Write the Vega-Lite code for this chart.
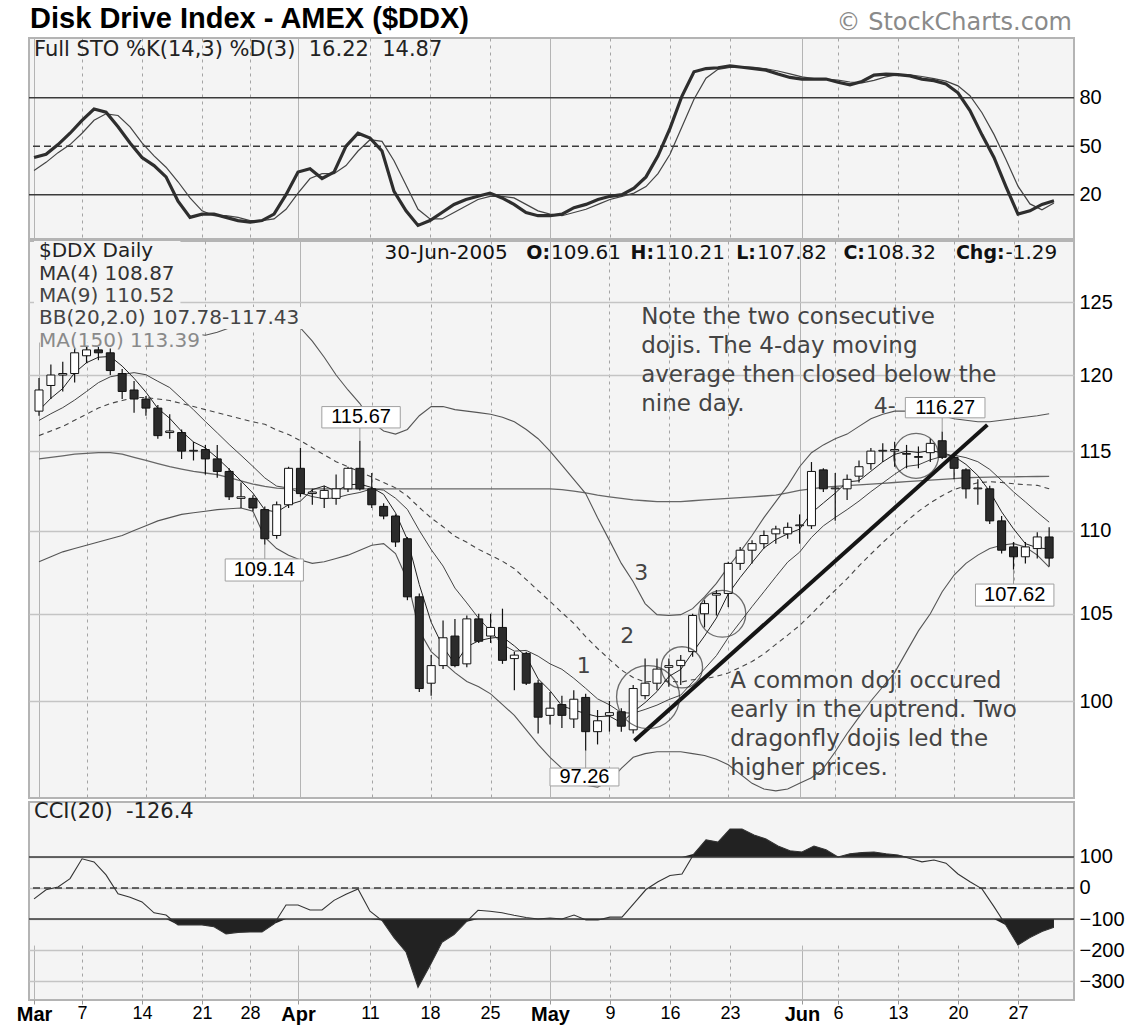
{
"$schema": "https://vega.github.io/schema/vega-lite/v6.json",
"background": "white",
"padding": {"left": 15, "top": 3, "right": 0, "bottom": 0},
"spacing": 0,
"config": {
  "view": {"fill": "#f4f4f4", "stroke": "#b4b4b4", "strokeWidth": 2},
  "axis": {"labelFont": "Liberation Sans", "labelColor": "#000"},
  "text": {"font": "DejaVu Sans"}
},
"datasets": {"d": [
{"t":0,"o":117.6,"h":119.8,"l":117.3,"c":119.0,"m4":117.65,"m9":116.99,"m20":116.0,"bu":124.0,"bl":108.1,"m150":114.5,"k":43,"dd":35,"cci":-35},
{"t":1,"o":119.3,"h":120.7,"l":118.4,"c":120.0,"m4":118.45,"m9":117.43,"m20":116.3,"bu":124.3,"bl":108.4,"m150":114.6,"k":45,"dd":40,"cci":-6},
{"t":2,"o":120.0,"h":120.9,"l":118.9,"c":120.1,"m4":119.1,"m9":117.83,"m20":116.6,"bu":124.5,"bl":108.7,"m150":114.7,"k":51,"dd":46,"cci":3},
{"t":3,"o":120.1,"h":121.8,"l":119.5,"c":121.5,"m4":120.15,"m9":118.33,"m20":117.0,"bu":124.8,"bl":108.9,"m150":114.8,"k":58,"dd":51,"cci":30},
{"t":4,"o":121.3,"h":121.9,"l":120.8,"c":121.7,"m4":120.83,"m9":118.9,"m20":117.4,"bu":125.0,"bl":109.1,"m150":114.85,"k":66,"dd":58,"cci":94},
{"t":5,"o":121.7,"h":121.9,"l":121.0,"c":121.5,"m4":121.2,"m9":119.49,"m20":117.8,"bu":125.0,"bl":109.3,"m150":114.9,"k":73,"dd":66,"cci":84},
{"t":6,"o":121.5,"h":121.8,"l":120.0,"c":120.3,"m4":121.25,"m9":119.88,"m20":118.1,"bu":124.8,"bl":109.5,"m150":114.9,"k":71,"dd":70,"cci":42},
{"t":7,"o":120.1,"h":120.4,"l":118.4,"c":118.9,"m4":120.6,"m9":120.03,"m20":118.3,"bu":124.5,"bl":109.7,"m150":114.8,"k":62,"dd":69,"cci":-19},
{"t":8,"o":119.0,"h":119.6,"l":117.5,"c":118.4,"m4":119.78,"m9":120.16,"m20":118.5,"bu":124.2,"bl":110.0,"m150":114.6,"k":52,"dd":62,"cci":-30},
{"t":9,"o":118.4,"h":118.6,"l":117.3,"c":117.8,"m4":118.85,"m9":120.02,"m20":118.5,"bu":123.9,"bl":110.3,"m150":114.4,"k":43,"dd":52,"cci":-45},
{"t":10,"o":117.8,"h":118.0,"l":115.8,"c":116.0,"m4":117.78,"m9":119.58,"m20":118.4,"bu":123.5,"bl":110.6,"m150":114.2,"k":38,"dd":44,"cci":-80},
{"t":11,"o":116.2,"h":117.4,"l":115.8,"c":116.3,"m4":117.13,"m9":119.16,"m20":118.3,"bu":123.2,"bl":110.8,"m150":114.0,"k":31,"dd":37,"cci":-87},
{"t":12,"o":116.2,"h":116.4,"l":114.5,"c":115.0,"m4":116.28,"m9":118.43,"m20":118.1,"bu":123.0,"bl":111.0,"m150":113.85,"k":16,"dd":28,"cci":-119},
{"t":13,"o":115.0,"h":115.6,"l":114.4,"c":115.05,"m4":115.59,"m9":117.69,"m20":117.9,"bu":122.8,"bl":111.1,"m150":113.7,"k":6,"dd":18,"cci":-119},
{"t":14,"o":115.1,"h":115.4,"l":113.5,"c":114.5,"m4":115.21,"m9":116.92,"m20":117.7,"bu":122.7,"bl":111.2,"m150":113.6,"k":8,"dd":10,"cci":-119},
{"t":15,"o":114.5,"h":115.4,"l":113.3,"c":113.7,"m4":114.56,"m9":116.18,"m20":117.5,"bu":122.9,"bl":111.3,"m150":113.5,"k":8,"dd":7,"cci":-125},
{"t":16,"o":113.7,"h":113.9,"l":111.9,"c":112.1,"m4":113.84,"m9":115.43,"m20":117.3,"bu":123.2,"bl":111.35,"m150":113.3,"k":6,"dd":7,"cci":-148},
{"t":17,"o":112.0,"h":113.0,"l":111.4,"c":112.1,"m4":113.1,"m9":114.73,"m20":117.1,"bu":123.3,"bl":111.4,"m150":113.1,"k":4,"dd":6,"cci":-143},
{"t":18,"o":112.0,"h":112.2,"l":111.2,"c":111.4,"m4":112.33,"m9":114.02,"m20":116.9,"bu":123.4,"bl":111.2,"m150":112.9,"k":3,"dd":4,"cci":-142},
{"t":19,"o":111.3,"h":111.5,"l":109.14,"c":109.5,"m4":111.28,"m9":113.29,"m20":116.74,"bu":123.5,"bl":109.6,"m150":112.75,"k":4,"dd":4,"cci":-142},
{"t":20,"o":109.7,"h":111.8,"l":109.5,"c":111.6,"m4":111.15,"m9":112.77,"m20":116.37,"bu":123.5,"bl":108.9,"m150":112.65,"k":8,"dd":5,"cci":-116},
{"t":21,"o":111.6,"h":114.0,"l":111.4,"c":113.9,"m4":111.6,"m9":112.65,"m20":116.07,"bu":123.4,"bl":108.5,"m150":112.6,"k":20,"dd":11,"cci":-55},
{"t":22,"o":113.9,"h":115.2,"l":112.1,"c":112.3,"m4":111.83,"m9":112.34,"m20":115.68,"bu":123.2,"bl":108.2,"m150":112.6,"k":34,"dd":21,"cci":-55},
{"t":23,"o":112.3,"h":112.6,"l":111.6,"c":112.4,"m4":112.55,"m9":112.11,"m20":115.22,"bu":122.3,"bl":108.0,"m150":112.6,"k":36,"dd":30,"cci":-71},
{"t":24,"o":112.0,"h":112.8,"l":111.4,"c":112.5,"m4":112.78,"m9":111.98,"m20":114.76,"bu":121.2,"bl":108.1,"m150":112.6,"k":30,"dd":33,"cci":-71},
{"t":25,"o":112.0,"h":113.5,"l":111.6,"c":112.6,"m4":112.45,"m9":112.03,"m20":114.32,"bu":120.0,"bl":108.3,"m150":112.6,"k":34,"dd":33,"cci":-40},
{"t":26,"o":112.6,"h":114.0,"l":112.4,"c":113.9,"m4":112.85,"m9":112.23,"m20":114.0,"bu":119.0,"bl":108.5,"m150":112.6,"k":50,"dd":38,"cci":-20},
{"t":27,"o":113.9,"h":115.67,"l":112.5,"c":112.6,"m4":112.9,"m9":112.37,"m20":113.68,"bu":118.1,"bl":108.8,"m150":112.6,"k":58,"dd":47,"cci":-3},
{"t":28,"o":112.6,"h":113.6,"l":111.4,"c":111.6,"m4":112.68,"m9":112.6,"m20":113.34,"bu":116.9,"bl":109.1,"m150":112.6,"k":55,"dd":54,"cci":-75},
{"t":29,"o":111.5,"h":111.7,"l":110.7,"c":110.9,"m4":112.25,"m9":112.52,"m20":113.0,"bu":116.3,"bl":109.2,"m150":112.6,"k":47,"dd":53,"cci":-105},
{"t":30,"o":110.9,"h":111.0,"l":109.0,"c":109.3,"m4":111.1,"m9":112.01,"m20":112.66,"bu":116.1,"bl":108.6,"m150":112.6,"k":22,"dd":41,"cci":-160},
{"t":31,"o":109.5,"h":109.6,"l":105.8,"c":106.0,"m4":109.45,"m9":111.31,"m20":112.15,"bu":116.4,"bl":107.0,"m150":112.6,"k":10,"dd":26,"cci":-206},
{"t":32,"o":106.0,"h":106.2,"l":100.5,"c":100.7,"m4":106.73,"m9":110.01,"m20":111.43,"bu":117.3,"bl":104.0,"m150":112.6,"k":1,"dd":11,"cci":-320},
{"t":33,"o":101.0,"h":102.6,"l":100.3,"c":102.0,"m4":104.5,"m9":108.84,"m20":110.78,"bu":117.9,"bl":102.8,"m150":112.6,"k":4,"dd":5,"cci":-250},
{"t":34,"o":102.0,"h":104.6,"l":101.8,"c":103.6,"m4":103.08,"m9":107.84,"m20":110.24,"bu":117.9,"bl":102.2,"m150":112.6,"k":9,"dd":5,"cci":-175},
{"t":35,"o":103.7,"h":104.7,"l":101.9,"c":102.0,"m4":102.08,"m9":106.52,"m20":109.65,"bu":117.7,"bl":101.6,"m150":112.6,"k":14,"dd":9,"cci":-150},
{"t":36,"o":102.1,"h":104.9,"l":101.9,"c":104.7,"m4":103.08,"m9":105.64,"m20":109.28,"bu":117.6,"bl":101.1,"m150":112.6,"k":17,"dd":13,"cci":-110},
{"t":37,"o":104.7,"h":105.0,"l":103.3,"c":103.4,"m4":103.43,"m9":104.73,"m20":108.85,"bu":117.5,"bl":100.8,"m150":112.6,"k":19,"dd":17,"cci":-72},
{"t":38,"o":103.7,"h":105.0,"l":103.3,"c":104.2,"m4":103.58,"m9":103.99,"m20":108.49,"bu":117.4,"bl":100.4,"m150":112.6,"k":21,"dd":19,"cci":-75},
{"t":39,"o":104.2,"h":105.3,"l":102.1,"c":102.3,"m4":103.65,"m9":103.21,"m20":108.13,"bu":117.2,"bl":99.8,"m150":112.6,"k":18,"dd":19,"cci":-80},
{"t":40,"o":102.4,"h":102.8,"l":100.6,"c":102.6,"m4":103.13,"m9":102.83,"m20":107.68,"bu":116.9,"bl":99.2,"m150":112.6,"k":14,"dd":18,"cci":-88},
{"t":41,"o":102.7,"h":102.8,"l":100.9,"c":101.0,"m4":102.53,"m9":102.87,"m20":107.03,"bu":116.4,"bl":98.4,"m150":112.6,"k":9,"dd":14,"cci":-95},
{"t":42,"o":101.0,"h":101.2,"l":98.2,"c":99.1,"m4":101.25,"m9":102.54,"m20":106.37,"bu":115.8,"bl":97.6,"m150":112.6,"k":7,"dd":10,"cci":-100},
{"t":43,"o":99.2,"h":100.5,"l":98.7,"c":99.6,"m4":100.58,"m9":102.1,"m20":105.73,"bu":115.0,"bl":96.9,"m150":112.6,"k":7,"dd":8,"cci":-97},
{"t":44,"o":99.8,"h":100.3,"l":98.5,"c":99.2,"m4":99.73,"m9":101.79,"m20":105.07,"bu":114.1,"bl":96.3,"m150":112.55,"k":8,"dd":7,"cci":-100},
{"t":45,"o":99.0,"h":100.6,"l":98.5,"c":100.1,"m4":99.5,"m9":101.28,"m20":104.44,"bu":113.2,"bl":95.8,"m150":112.45,"k":12,"dd":9,"cci":-87},
{"t":46,"o":100.2,"h":100.4,"l":97.26,"c":98.3,"m4":99.3,"m9":100.71,"m20":103.66,"bu":112.3,"bl":95.4,"m150":112.35,"k":14,"dd":11,"cci":-103},
{"t":47,"o":98.3,"h":99.5,"l":97.6,"c":98.9,"m4":99.13,"m9":100.12,"m20":102.98,"bu":110.8,"bl":95.3,"m150":112.2,"k":17,"dd":14,"cci":-103},
{"t":48,"o":99.2,"h":100.0,"l":98.3,"c":99.35,"m4":99.16,"m9":99.79,"m20":102.36,"bu":109.4,"bl":95.6,"m150":112.1,"k":19,"dd":17,"cci":-94},
{"t":49,"o":99.4,"h":99.6,"l":98.3,"c":98.6,"m4":98.79,"m9":99.35,"m20":101.75,"bu":108.0,"bl":96.3,"m150":112.0,"k":20,"dd":19,"cci":-94},
{"t":50,"o":98.4,"h":100.9,"l":98.2,"c":100.7,"m4":99.39,"m9":99.32,"m20":101.32,"bu":106.9,"bl":96.9,"m150":111.9,"k":24,"dd":21,"cci":-50},
{"t":51,"o":100.3,"h":102.4,"l":100.1,"c":101.0,"m4":99.91,"m9":99.53,"m20":101.07,"bu":105.6,"bl":97.1,"m150":111.85,"k":31,"dd":25,"cci":-5},
{"t":52,"o":101.0,"h":102.4,"l":100.6,"c":101.8,"m4":100.53,"m9":99.77,"m20":101.12,"bu":104.95,"bl":97.2,"m150":111.8,"k":44,"dd":33,"cci":20},
{"t":53,"o":101.9,"h":102.4,"l":100.8,"c":102.0,"m4":101.38,"m9":100.08,"m20":101.12,"bu":104.9,"bl":97.2,"m150":111.8,"k":61,"dd":45,"cci":40},
{"t":54,"o":102.0,"h":102.6,"l":100.9,"c":102.3,"m4":101.78,"m9":100.33,"m20":101.06,"bu":104.95,"bl":97.2,"m150":111.8,"k":81,"dd":62,"cci":45},
{"t":55,"o":102.8,"h":105.0,"l":102.5,"c":104.9,"m4":102.75,"m9":101.06,"m20":101.2,"bu":105.3,"bl":97.1,"m150":111.85,"k":96,"dd":79,"cci":110},
{"t":56,"o":105.0,"h":105.8,"l":104.2,"c":105.6,"m4":103.7,"m9":101.81,"m20":101.25,"bu":106.0,"bl":97.0,"m150":111.9,"k":98,"dd":92,"cci":155},
{"t":57,"o":106.1,"h":106.4,"l":104.9,"c":106.2,"m4":104.75,"m9":102.57,"m20":101.39,"bu":106.8,"bl":96.8,"m150":111.95,"k":98.5,"dd":97.5,"cci":148},
{"t":58,"o":106.2,"h":108.1,"l":105.4,"c":108.0,"m4":106.18,"m9":103.61,"m20":101.58,"bu":107.8,"bl":96.5,"m150":112.0,"k":99.6,"dd":98.7,"cci":190},
{"t":59,"o":108.0,"h":109.0,"l":107.6,"c":108.8,"m4":107.15,"m9":104.51,"m20":101.9,"bu":108.7,"bl":96.0,"m150":112.05,"k":98.8,"dd":99,"cci":190},
{"t":60,"o":108.8,"h":109.4,"l":108.0,"c":109.2,"m4":108.05,"m9":105.42,"m20":102.23,"bu":109.7,"bl":95.5,"m150":112.1,"k":98,"dd":98.8,"cci":171},
{"t":61,"o":109.2,"h":110.0,"l":108.9,"c":109.7,"m4":108.93,"m9":106.3,"m20":102.67,"bu":110.8,"bl":95.2,"m150":112.15,"k":97,"dd":97.9,"cci":158},
{"t":62,"o":109.8,"h":110.3,"l":109.2,"c":110.1,"m4":109.45,"m9":107.2,"m20":103.22,"bu":111.8,"bl":95.1,"m150":112.2,"k":94.6,"dd":96.5,"cci":135},
{"t":63,"o":109.8,"h":110.5,"l":109.5,"c":110.2,"m4":109.8,"m9":108.08,"m20":103.75,"bu":112.8,"bl":95.2,"m150":112.35,"k":92.5,"dd":94.7,"cci":120},
{"t":64,"o":110.3,"h":111.0,"l":109.2,"c":110.35,"m4":110.09,"m9":108.68,"m20":104.31,"bu":114.0,"bl":95.5,"m150":112.5,"k":91.5,"dd":92.9,"cci":116},
{"t":65,"o":110.3,"h":114.3,"l":110.1,"c":113.7,"m4":111.09,"m9":109.58,"m20":104.99,"bu":114.9,"bl":95.8,"m150":112.6,"k":91.5,"dd":91.8,"cci":135},
{"t":66,"o":113.8,"h":113.9,"l":112.4,"c":112.6,"m4":111.71,"m9":110.29,"m20":105.7,"bu":115.4,"bl":96.3,"m150":112.7,"k":91.5,"dd":91.5,"cci":123},
{"t":67,"o":112.6,"h":113.6,"l":110.6,"c":112.65,"m4":112.33,"m9":110.81,"m20":106.39,"bu":115.8,"bl":97.2,"m150":112.75,"k":89.5,"dd":90.8,"cci":100},
{"t":68,"o":112.6,"h":113.5,"l":111.9,"c":113.2,"m4":113.04,"m9":111.3,"m20":107.08,"bu":116.1,"bl":98.2,"m150":112.8,"k":88,"dd":89.7,"cci":110},
{"t":69,"o":113.4,"h":114.4,"l":113.0,"c":114.0,"m4":113.11,"m9":111.83,"m20":107.85,"bu":116.6,"bl":99.1,"m150":112.85,"k":90,"dd":89.2,"cci":114},
{"t":70,"o":114.2,"h":115.2,"l":113.8,"c":115.0,"m4":113.71,"m9":112.42,"m20":108.57,"bu":117.1,"bl":100.0,"m150":112.9,"k":94,"dd":90.7,"cci":116},
{"t":71,"o":115.0,"h":115.5,"l":114.3,"c":115.05,"m4":114.31,"m9":112.97,"m20":109.27,"bu":117.4,"bl":100.8,"m150":112.95,"k":94.6,"dd":92.9,"cci":110},
{"t":72,"o":115.0,"h":115.6,"l":114.0,"c":115.1,"m4":114.79,"m9":113.52,"m20":109.93,"bu":117.6,"bl":101.6,"m150":113.0,"k":94.3,"dd":94.3,"cci":106},
{"t":73,"o":114.8,"h":115.4,"l":113.9,"c":114.85,"m4":115.0,"m9":114.02,"m20":110.58,"bu":117.6,"bl":102.8,"m150":113.05,"k":93.5,"dd":94.1,"cci":95},
{"t":74,"o":114.6,"h":115.3,"l":113.9,"c":114.65,"m4":114.91,"m9":114.12,"m20":111.19,"bu":117.5,"bl":104.0,"m150":113.1,"k":91.5,"dd":93.1,"cci":84},
{"t":75,"o":114.9,"h":115.8,"l":114.3,"c":115.5,"m4":115.03,"m9":114.44,"m20":111.72,"bu":117.4,"bl":105.0,"m150":113.15,"k":90.5,"dd":91.8,"cci":90},
{"t":76,"o":115.67,"h":116.27,"l":114.5,"c":114.6,"m4":114.9,"m9":114.66,"m20":112.17,"bu":117.3,"bl":106.3,"m150":113.2,"k":88.5,"dd":90.2,"cci":80},
{"t":77,"o":114.6,"h":114.9,"l":113.2,"c":113.9,"m4":114.66,"m9":114.74,"m20":112.56,"bu":117.1,"bl":107.3,"m150":113.25,"k":83,"dd":87.3,"cci":45},
{"t":78,"o":113.8,"h":113.9,"l":112.0,"c":112.6,"m4":114.15,"m9":114.58,"m20":112.79,"bu":117.0,"bl":108.0,"m150":113.3,"k":72,"dd":81.2,"cci":20},
{"t":79,"o":112.6,"h":113.2,"l":111.6,"c":112.65,"m4":113.44,"m9":114.32,"m20":112.98,"bu":116.9,"bl":108.5,"m150":113.32,"k":57,"dd":70.7,"cci":-3},
{"t":80,"o":112.6,"h":112.8,"l":110.4,"c":110.6,"m4":112.44,"m9":113.83,"m20":113.05,"bu":116.9,"bl":108.9,"m150":113.34,"k":43,"dd":57.3,"cci":-60},
{"t":81,"o":110.6,"h":110.9,"l":108.6,"c":108.8,"m4":111.16,"m9":113.13,"m20":113.0,"bu":117.0,"bl":109.1,"m150":113.35,"k":25,"dd":41.7,"cci":-120},
{"t":82,"o":109.0,"h":109.3,"l":107.62,"c":108.4,"m4":110.11,"m9":112.41,"m20":112.92,"bu":117.1,"bl":109.2,"m150":113.36,"k":8,"dd":25.3,"cci":-184},
{"t":83,"o":108.4,"h":109.3,"l":108.0,"c":109.0,"m4":109.2,"m9":111.78,"m20":112.86,"bu":117.2,"bl":109.0,"m150":113.37,"k":10,"dd":14.3,"cci":-160},
{"t":84,"o":108.9,"h":109.9,"l":108.3,"c":109.61,"m4":108.95,"m9":111.13,"m20":112.82,"bu":117.3,"bl":108.5,"m150":113.38,"k":14,"dd":10.7,"cci":-140},
{"t":85,"o":109.61,"h":110.21,"l":107.82,"c":108.32,"m4":108.87,"m9":110.52,"m20":112.6,"bu":117.43,"bl":107.78,"m150":113.39,"k":16.22,"dd":14.87,"cci":-126.4}
]},
"vconcat": [
{
  "width": 1045, "height": 201,
  "layer": [
    {"data": {"values": [{}]}, "mark": {"type": "rule", "color": "#3a3a3a", "strokeWidth": 1.5}, "encoding": {"y": {"datum": 80, "type": "quantitative"}}},
    {"data": {"values": [{}]}, "mark": {"type": "rule", "color": "#3a3a3a", "strokeWidth": 1.5}, "encoding": {"y": {"datum": 20, "type": "quantitative"}}},
    {"data": {"values": [{}]}, "mark": {"type": "rule", "color": "#3a3a3a", "strokeWidth": 1.5, "strokeDash": [7, 4]}, "encoding": {"y": {"datum": 50, "type": "quantitative"}}},
    {"data": {"name": "d"}, "mark": {"type": "line", "color": "#444", "strokeWidth": 1.2},
     "encoding": {
       "x": {"field": "t", "type": "quantitative", "title": null, "scale": {"domain": [-0.42, 86.67], "nice": false, "zero": false},
             "axis": {"orient": "bottom", "values": [0,4,9,14,18,22,28,33,38,43,48,53,58,64,67,72,77,82], "labels": false, "ticks": false, "domain": false, "grid": true,
                      "gridColor": {"condition": {"test": "datum.value==0||datum.value==22||datum.value==43||datum.value==64", "value": "#b4b4b4"}, "value": "#a4a4a4"},
                      "gridDash": {"condition": {"test": "datum.value==0||datum.value==22||datum.value==43||datum.value==64", "value": []}, "value": [3, 4]},
                      "title": null, "minExtent": 0, "maxExtent": 0}},
       "y": {"field": "dd", "type": "quantitative", "title": null, "scale": {"domain": [-7.4, 116.9], "nice": false, "zero": false},
             "axis": {"orient": "right", "values": [20, 50, 80], "grid": false, "ticks": false, "domain": false, "labelFontSize": 20, "labelPadding": 5, "title": null}}}},
    {"data": {"name": "d"}, "mark": {"type": "line", "color": "#2e2e2e", "strokeWidth": 3.2},
     "encoding": {"x": {"field": "t", "type": "quantitative", "title": null}, "y": {"field": "k", "type": "quantitative", "title": null}}},
    {"data": {"values": [{}]}, "mark": {"type": "text", "text": "Full STO %K(14,3) %D(3)\u00a0\u00a016.22\u00a0\u00a014.87", "align": "left", "baseline": "middle", "fontSize": 21, "color": "#222"},
     "encoding": {"x": {"datum": 0, "type": "quantitative"}, "y": {"datum": 109.5, "type": "quantitative"}}},
    {"data": {"values": [{}]}, "mark": {"type": "text", "text": "Disk Drive Index - AMEX ($DDX)", "align": "left", "baseline": "middle", "font": "Liberation Sans", "fontWeight": "bold", "fontSize": 29, "color": "#000"},
     "encoding": {"x": {"datum": -0.33, "type": "quantitative"}, "y": {"datum": 128.65, "type": "quantitative"}}},
    {"data": {"values": [{}]}, "mark": {"type": "text", "text": "\u00a9 StockCharts.com", "align": "right", "baseline": "middle", "fontSize": 24, "color": "#8a8a8a"},
     "encoding": {"x": {"datum": 86.5, "type": "quantitative"}, "y": {"datum": 126.2, "type": "quantitative"}}}
  ]
},
{
  "width": 1045, "height": 557,
  "layer": [
    {"data": {"name": "d"}, "mark": {"type": "line", "color": "#666", "strokeWidth": 1.3},
     "encoding": {
       "x": {"field": "t", "type": "quantitative", "title": null, "scale": {"domain": [-0.42, 86.67], "nice": false, "zero": false},
             "axis": {"orient": "bottom", "values": [0,4,9,14,18,22,28,33,38,43,48,53,58,64,67,72,77,82], "labels": false, "ticks": false, "domain": false, "grid": true,
                      "gridColor": {"condition": {"test": "datum.value==0||datum.value==22||datum.value==43||datum.value==64", "value": "#b4b4b4"}, "value": "#a4a4a4"},
                      "gridDash": {"condition": {"test": "datum.value==0||datum.value==22||datum.value==43||datum.value==64", "value": []}, "value": [3, 4]},
                      "title": null, "minExtent": 0, "maxExtent": 0}},
       "y": {"field": "m150", "type": "quantitative", "title": null, "scale": {"type": "log", "domain": [94.72, 129.34], "nice": false},
             "axis": {"orient": "right", "values": [100, 105, 110, 115, 120, 125], "grid": true, "gridColor": "#c4c4c4", "gridWidth": 1.5, "ticks": false, "domain": false, "labelFontSize": 20, "labelPadding": 5, "title": null}}}},
    {"data": {"name": "d"}, "mark": {"type": "line", "color": "#555", "strokeWidth": 1.1},
     "encoding": {"x": {"field": "t", "type": "quantitative", "title": null}, "y": {"field": "bu", "type": "quantitative", "title": null}}},
    {"data": {"name": "d"}, "mark": {"type": "line", "color": "#555", "strokeWidth": 1.1},
     "encoding": {"x": {"field": "t", "type": "quantitative", "title": null}, "y": {"field": "bl", "type": "quantitative", "title": null}}},
    {"data": {"name": "d"}, "mark": {"type": "line", "color": "#444", "strokeWidth": 1.1, "strokeDash": [5, 4]},
     "encoding": {"x": {"field": "t", "type": "quantitative", "title": null}, "y": {"field": "m20", "type": "quantitative", "title": null}}},
    {"data": {"name": "d"}, "mark": {"type": "line", "color": "#444", "strokeWidth": 1},
     "encoding": {"x": {"field": "t", "type": "quantitative", "title": null}, "y": {"field": "m9", "type": "quantitative", "title": null}}},
    {"data": {"name": "d"}, "mark": {"type": "line", "color": "#222", "strokeWidth": 1},
     "encoding": {"x": {"field": "t", "type": "quantitative", "title": null}, "y": {"field": "m4", "type": "quantitative", "title": null}}},
    {"data": {"name": "d"}, "mark": {"type": "rule", "color": "#111", "strokeWidth": 1.2},
     "encoding": {"x": {"field": "t", "type": "quantitative", "title": null}, "y": {"field": "l", "type": "quantitative", "title": null}, "y2": {"field": "h"}}},
    {"data": {"name": "d"}, "mark": {"type": "bar", "size": 8, "stroke": "#111", "strokeWidth": 1},
     "encoding": {"x": {"field": "t", "type": "quantitative", "title": null}, "y": {"field": "o", "type": "quantitative", "title": null}, "y2": {"field": "c"},
                  "fill": {"condition": {"test": "datum.c < datum.o", "value": "#2b2b2b"}, "value": "#ffffff"}}},
    {"data": {"values": [{"t": 50.1, "p": 97.8}, {"t": 79.8, "p": 116.7}]}, "mark": {"type": "line", "color": "#151515", "strokeWidth": 4},
     "encoding": {"x": {"field": "t", "type": "quantitative", "title": null}, "y": {"field": "p", "type": "quantitative", "title": null}}},
    {"data": {"values": [{}]}, "mark": {"type": "point", "shape": "circle", "filled": false, "size": 3969, "color": "#333", "strokeWidth": 1.3},
     "encoding": {"x": {"datum": 51.25, "type": "quantitative"}, "y": {"datum": 100.22, "type": "quantitative"}}},
    {"data": {"values": [{}]}, "mark": {"type": "point", "shape": "circle", "filled": false, "size": 1700, "color": "#333", "strokeWidth": 1.3},
     "encoding": {"x": {"datum": 54.1, "type": "quantitative"}, "y": {"datum": 101.9, "type": "quantitative"}}},
    {"data": {"values": [{}]}, "mark": {"type": "point", "shape": "circle", "filled": false, "size": 2200, "color": "#333", "strokeWidth": 1.3},
     "encoding": {"x": {"datum": 57.5, "type": "quantitative"}, "y": {"datum": 105.0, "type": "quantitative"}}},
    {"data": {"values": [{}]}, "mark": {"type": "point", "shape": "circle", "filled": false, "size": 2025, "color": "#333", "strokeWidth": 1.3},
     "encoding": {"x": {"datum": 73.8, "type": "quantitative"}, "y": {"datum": 114.7, "type": "quantitative"}}},
    {"data": {"values": [{}]}, "mark": {"type": "rect", "fill": "#f4f4f4"},
     "encoding": {"x": {"datum": -0.42, "type": "quantitative"}, "x2": {"datum": 11.9}, "y": {"datum": 124.65, "type": "quantitative"}, "y2": {"datum": 129.34}}},
    {"data": {"values": [{}]}, "mark": {"type": "rect", "fill": "#f4f4f4"},
     "encoding": {"x": {"datum": -0.42, "type": "quantitative"}, "x2": {"datum": 22.3}, "y": {"datum": 123.13, "type": "quantitative"}, "y2": {"datum": 124.65}}},
    {"data": {"values": [{}]}, "mark": {"type": "rect", "fill": "#f4f4f4"},
     "encoding": {"x": {"datum": -0.42, "type": "quantitative"}, "x2": {"datum": 13.75}, "y": {"datum": 122.2, "type": "quantitative"}, "y2": {"datum": 123.13}}},
    {"data": {"values": [{"t": 27, "a": 115.67, "b": 116.5}, {"t": 19, "a": 109.14, "b": 108.27}, {"t": 46, "a": 97.26, "b": 96.32}, {"t": 82, "a": 107.62, "b": 106.76}, {"t": 76, "a": 116.27, "b": 117.16}]},
     "mark": {"type": "rule", "color": "#9a9a9a", "strokeWidth": 1},
     "encoding": {"x": {"field": "t", "type": "quantitative", "title": null}, "y": {"field": "a", "type": "quantitative", "title": null}, "y2": {"field": "b"}}},
    {"data": {"values": [{"t1": 23.8, "t2": 30.4, "p1": 116.5, "p2": 117.9}, {"t1": 15.67, "t2": 22.25, "p1": 106.94, "p2": 108.27}, {"t1": 43.0, "t2": 48.8, "p1": 95.36, "p2": 96.32}, {"t1": 78.8, "t2": 85.4, "p1": 105.45, "p2": 106.76}, {"t1": 72.9, "t2": 79.6, "p1": 117.16, "p2": 118.5}]},
     "mark": {"type": "rect", "fill": "#ffffff", "stroke": "#a0a0a0", "strokeWidth": 1},
     "encoding": {"x": {"field": "t1", "type": "quantitative", "title": null}, "x2": {"field": "t2"}, "y": {"field": "p1", "type": "quantitative", "title": null}, "y2": {"field": "p2"}}},
    {"data": {"values": [{"t": 27.1, "p": 117.2, "s": "115.67"}, {"t": 18.96, "p": 107.6, "s": "109.14"}, {"t": 45.9, "p": 95.84, "s": "97.26"}, {"t": 82.1, "p": 106.1, "s": "107.62"}, {"t": 76.25, "p": 117.82, "s": "116.27"}]},
     "mark": {"type": "text", "align": "center", "baseline": "middle", "font": "Liberation Sans", "fontSize": 20, "color": "#000"},
     "encoding": {"x": {"field": "t", "type": "quantitative", "title": null}, "y": {"field": "p", "type": "quantitative", "title": null}, "text": {"field": "s"}}},
    {"data": {"values": [{}]}, "mark": {"type": "text", "text": "$DDX Daily", "align": "left", "baseline": "middle", "fontSize": 20, "color": "#222"},
     "encoding": {"x": {"datum": 0, "type": "quantitative"}, "y": {"datum": 128.6, "type": "quantitative"}}},
    {"data": {"values": [{}]}, "mark": {"type": "text", "text": "MA(4) 108.87", "align": "left", "baseline": "middle", "fontSize": 20, "color": "#333"},
     "encoding": {"x": {"datum": 0, "type": "quantitative"}, "y": {"datum": 126.97, "type": "quantitative"}}},
    {"data": {"values": [{}]}, "mark": {"type": "text", "text": "MA(9) 110.52", "align": "left", "baseline": "middle", "fontSize": 20, "color": "#444"},
     "encoding": {"x": {"datum": 0, "type": "quantitative"}, "y": {"datum": 125.42, "type": "quantitative"}}},
    {"data": {"values": [{}]}, "mark": {"type": "text", "text": "BB(20,2.0) 107.78-117.43", "align": "left", "baseline": "middle", "fontSize": 20, "color": "#444"},
     "encoding": {"x": {"datum": 0, "type": "quantitative"}, "y": {"datum": 123.88, "type": "quantitative"}}},
    {"data": {"values": [{}]}, "mark": {"type": "text", "text": "MA(150) 113.39", "align": "left", "baseline": "middle", "fontSize": 20, "color": "#8a8a8a"},
     "encoding": {"x": {"datum": 0, "type": "quantitative"}, "y": {"datum": 122.3, "type": "quantitative"}}},
    {"data": {"values": [{"t": 29.08, "s": "30-Jun-2005"}, {"t": 43.08, "s": "109.61"}, {"t": 51.83, "s": "110.21"}, {"t": 60.42, "s": "107.82"}, {"t": 69.58, "s": "108.32"}, {"t": 81.33, "s": "-1.29"}]},
     "mark": {"type": "text", "align": "left", "baseline": "middle", "fontSize": 20, "color": "#111"},
     "encoding": {"x": {"field": "t", "type": "quantitative", "title": null}, "y": {"datum": 128.47, "type": "quantitative"}, "text": {"field": "s"}}},
    {"data": {"values": [{"t": 43.0, "s": "O:"}, {"t": 51.75, "s": "H:"}, {"t": 60.33, "s": "L:"}, {"t": 69.5, "s": "C:"}, {"t": 81.25, "s": "Chg:"}]},
     "mark": {"type": "text", "align": "right", "baseline": "middle", "fontSize": 19, "fontWeight": "bold", "color": "#111"},
     "encoding": {"x": {"field": "t", "type": "quantitative", "title": null}, "y": {"datum": 128.47, "type": "quantitative"}, "text": {"field": "s"}}},
    {"data": {"values": [{}]}, "mark": {"type": "text", "text": ["Note the two consecutive", "dojis.  The 4-day moving", "average then closed below the", "nine day."], "align": "left", "baseline": "alphabetic", "lineHeight": 29, "fontSize": 23, "color": "#444"},
     "encoding": {"x": {"datum": 50.67, "type": "quantitative"}, "y": {"datum": 123.48, "type": "quantitative"}}},
    {"data": {"values": [{}]}, "mark": {"type": "text", "text": ["A common doji occured", "early in the uptrend.  Two", "dragonfly dojis led the", "higher prices."], "align": "left", "baseline": "alphabetic", "lineHeight": 29, "fontSize": 23, "color": "#444"},
     "encoding": {"x": {"datum": 58.17, "type": "quantitative"}, "y": {"datum": 100.73, "type": "quantitative"}}},
    {"data": {"values": [{"t": 45.83, "p": 101.98, "s": "1"}, {"t": 49.5, "p": 103.7, "s": "2"}, {"t": 50.67, "p": 107.42, "s": "3"}]},
     "mark": {"type": "text", "align": "center", "baseline": "middle", "fontSize": 22, "color": "#444"},
     "encoding": {"x": {"field": "t", "type": "quantitative", "title": null}, "y": {"field": "p", "type": "quantitative", "title": null}, "text": {"field": "s"}}},
    {"data": {"values": [{}]}, "mark": {"type": "text", "text": "4-", "align": "left", "baseline": "middle", "fontSize": 22, "color": "#444"},
     "encoding": {"x": {"datum": 70.25, "type": "quantitative"}, "y": {"datum": 117.94, "type": "quantitative"}}}
  ]
},
{
  "width": 1045, "height": 198,
  "resolve": {"scale": {"y": "independent"}},
  "layer": [
    {"data": {"name": "d"}, "mark": {"type": "area", "color": "#222", "opacity": 1},
     "encoding": {"x": {"field": "t", "type": "quantitative", "title": null},
                  "y": {"field": "cci", "type": "quantitative", "title": null, "axis": null, "scale": {"domain": [100, 277], "range": [54.93, 0], "clamp": true, "nice": false, "zero": false}},
                  "y2": {"datum": 100}}},
    {"data": {"name": "d"}, "mark": {"type": "area", "color": "#222", "opacity": 1},
     "encoding": {"x": {"field": "t", "type": "quantitative", "title": null},
                  "y": {"field": "cci", "type": "quantitative", "title": null, "axis": null, "scale": {"domain": [-361, -100], "range": [198, 117.0], "clamp": true, "nice": false, "zero": false}},
                  "y2": {"datum": -100}}},
    {"layer": [
      {"data": {"values": [{}]}, "mark": {"type": "rule", "color": "#3a3a3a", "strokeWidth": 1.5}, "encoding": {"y": {"datum": 100, "type": "quantitative"}}},
      {"data": {"values": [{}]}, "mark": {"type": "rule", "color": "#3a3a3a", "strokeWidth": 1.5}, "encoding": {"y": {"datum": -100, "type": "quantitative"}}},
      {"data": {"values": [{}]}, "mark": {"type": "rule", "color": "#3a3a3a", "strokeWidth": 1.5, "strokeDash": [7, 4]}, "encoding": {"y": {"datum": 0, "type": "quantitative"}}},
      {"data": {"name": "d"}, "mark": {"type": "line", "color": "#333", "strokeWidth": 1.1},
       "encoding": {
         "x": {"field": "t", "type": "quantitative", "title": null, "scale": {"domain": [-0.42, 86.67], "nice": false, "zero": false},
               "axis": {"orient": "bottom", "values": [0,4,9,14,18,22,28,33,38,43,48,53,58,64,67,72,77,82], "labels": true, "ticks": true, "tickSize": 4, "tickColor": "#999", "domain": false, "grid": true,
                        "gridColor": {"condition": {"test": "datum.value==0||datum.value==22||datum.value==43||datum.value==64", "value": "#b4b4b4"}, "value": "#a4a4a4"},
                        "gridDash": {"condition": {"test": "datum.value==0||datum.value==22||datum.value==43||datum.value==64", "value": []}, "value": [3, 4]},
                        "labelExpr": "datum.value==0?'Mar':datum.value==4?'7':datum.value==9?'14':datum.value==14?'21':datum.value==18?'28':datum.value==22?'Apr':datum.value==28?'11':datum.value==33?'18':datum.value==38?'25':datum.value==43?'May':datum.value==48?'9':datum.value==53?'16':datum.value==58?'23':datum.value==64?'Jun':datum.value==67?'6':datum.value==72?'13':datum.value==77?'20':datum.value==82?'27':''",
                        "labelFontWeight": {"condition": {"test": "datum.value==0||datum.value==22||datum.value==43||datum.value==64", "value": "bold"}, "value": "normal"},
                        "labelFontSize": {"condition": {"test": "datum.value==0||datum.value==22||datum.value==43||datum.value==64", "value": 20}, "value": 18},
                        "labelPadding": 0, "labelFlush": false, "labelOverlap": false, "title": null}},
         "y": {"field": "cci", "type": "quantitative", "title": null, "scale": {"domain": [-361, 277], "nice": false, "zero": false},
               "axis": {"orient": "right", "values": [100, 0, -100, -200, -300], "grid": true, "gridColor": "#c4c4c4", "gridWidth": 1.5, "ticks": false, "domain": false, "labelFontSize": 20, "labelPadding": 5, "title": null}}}},
      {"data": {"values": [{}]}, "mark": {"type": "text", "text": "CCI(20)\u00a0\u00a0-126.4", "align": "left", "baseline": "middle", "fontSize": 21, "color": "#222"},
       "encoding": {"x": {"datum": 0, "type": "quantitative"}, "y": {"datum": 244.8, "type": "quantitative"}}}
    ]}
  ]
}
]
}
